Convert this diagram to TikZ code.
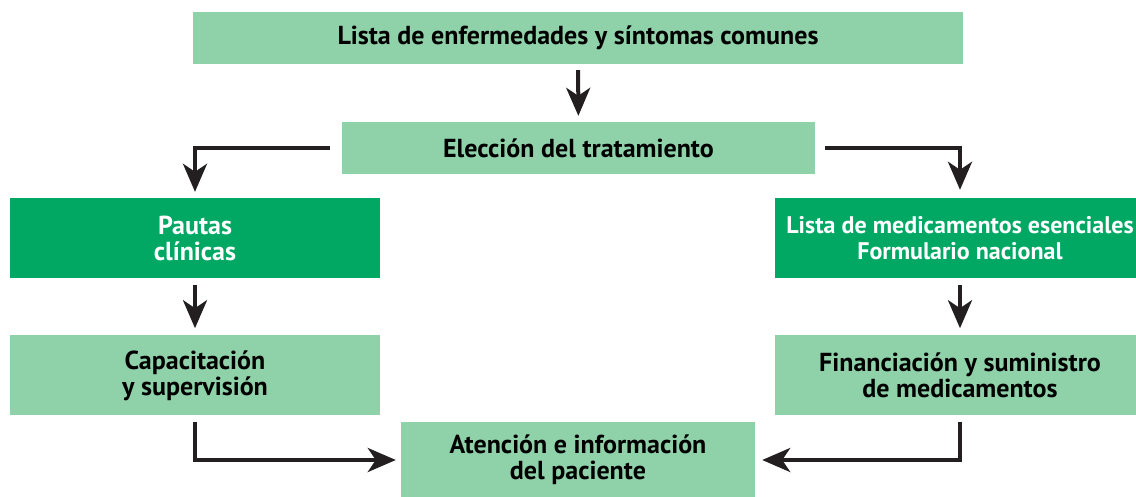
\documentclass[tikz,border=0pt]{standalone}
\usepackage{fontspec}
\setmainfont{PT Sans}
\usetikzlibrary{arrows.meta, positioning}
\definecolor{paleGreen}{HTML}{8FD1A9}
\definecolor{deepGreen}{HTML}{00A864}
\definecolor{inkBlack}{HTML}{231F20}
\tikzstyle{paleBox} = [rectangle, fill=paleGreen, inner sep=0pt, align=center,
   font=\bfseries\fontsize{26}{26}\selectfont]
\tikzstyle{deepBox} = [paleBox, fill=deepGreen, text=white]
\tikzstyle{fatArrow} = [line width=4pt, draw=inkBlack,
   -{Stealth[length=28pt, width=24pt, inset=8pt]}]

\begin{document}
\begin{tikzpicture}[x=1pt, y=1pt]
  \useasboundingbox (0,0) rectangle (1136,-496);

  \node[paleBox, minimum width=770pt, minimum height=52pt] (list) at (578,-38) {Lista de enfermedades y síntomas comunes};
  \node[paleBox, minimum width=473pt, minimum height=52pt] (choice) at (578.5,-148) {Elección del tratamiento};
  \node[deepBox, minimum width=370pt, minimum height=80pt] (guides) at (195,-238) {Pautas\\clínicas};
  \node[deepBox, minimum width=370pt, minimum height=80pt, font=\bfseries\fontsize{24}{26}\selectfont] (essential) at (960,-238) {Lista de medicamentos esenciales\\Formulario nacional};
  \node[paleBox, minimum width=370pt, minimum height=80pt, below=57pt of guides] (training) {Capacitación\\y supervisión};
  \node[paleBox, minimum width=370pt, minimum height=80pt, below=57pt of essential] (supply) {Financiación y suministro\\de medicamentos};
  \node[paleBox, minimum width=354pt, minimum height=76pt] (care) at (578,-460) {Atención e información\\del paciente};

  % arrows between the boxes
  \draw[fatArrow, shorten <=6pt, shorten >=6pt] (list) -- (choice);
  \draw[fatArrow, shorten <=12pt, shorten >=6pt] (choice.west) -| (guides.north);
  \draw[fatArrow, shorten <=10pt, shorten >=8pt] (choice.east) -| (essential.north);
  \draw[fatArrow, shorten <=7pt, shorten >=7pt] (guides) -- (training);
  \draw[fatArrow, shorten <=7pt, shorten >=7pt] (essential) -- (supply);
  \draw[fatArrow, shorten <=6pt, shorten >=5pt] (training.south) |- (care.west);
  \draw[fatArrow, shorten <=6pt, shorten >=7pt] (supply.south) |- (care.east);
\end{tikzpicture}
\end{document}
